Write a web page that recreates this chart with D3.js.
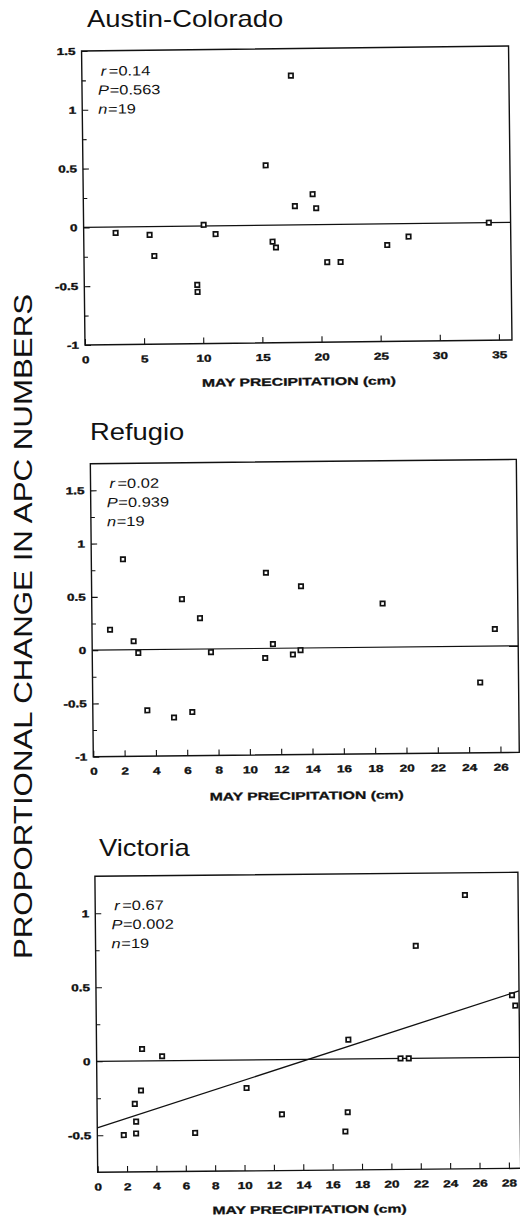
<!DOCTYPE html>
<html>
<head>
<meta charset="utf-8">
<script src="https://cdnjs.cloudflare.com/ajax/libs/d3/7.8.5/d3.min.js"></script>
<style>
  body { margin: 0; background: #fff; }
  svg { display: block; }
  text { font-family: "Liberation Sans", Arial, Helvetica, sans-serif; fill: #111; }
</style>
</head>
<body>
<script>
// May precipitation (cm) and proportional change in APC numbers, per site
const austinPrecip = [2.7, 5.57, 5.95, 9.55, 9.57, 10.15, 11.15, 15.45, 17.67, 15.96, 16.24, 17.88, 19.39, 19.68, 20.56, 21.69, 25.65, 27.46, 34.26];
const austinChange = [-0.05, -0.07, -0.25, -0.50, -0.56, 0.01, -0.07, 0.51, 1.27, -0.14, -0.19, 0.16, 0.26, 0.14, -0.32, -0.32, -0.18, -0.11, 0.0];

const refugioPrecip = [1.15, 2.02, 2.65, 2.94, 3.48, 5.18, 5.76, 6.35, 6.9, 7.58, 11.04, 11.14, 11.54, 12.81, 13.3, 13.37, 18.57, 24.75, 25.72];
const refugioChange = [0.19, 0.85, 0.08, -0.03, -0.57, -0.64, 0.47, -0.59, 0.29, -0.03, -0.09, 0.71, 0.04, -0.06, -0.02, 0.58, 0.41, -0.34, 0.16];

const victoriaPrecip = [1.8, 2.57, 2.65, 2.64, 3.0, 3.1, 4.46, 6.66, 10.19, 12.58, 16.89, 17.06, 17.15, 20.69, 21.25, 21.8, 25.18, 28.32, 28.54];
const victoriaChange = [-0.50, -0.29, -0.41, -0.49, -0.20, 0.08, 0.03, -0.49, -0.19, -0.37, -0.49, -0.36, 0.13, 0.0, 0.0, 0.76, 1.10, 0.42, 0.35];
const victoriaFit = [-0.45, 0.0312]; // intercept, slope

// tick labels
const austinXTicks = [0, 5, 10, 15, 20, 25, 30, 35];
const refugioXTicks = [0, 2, 4, 6, 8, 10, 12, 14, 16, 18, 20, 22, 24, 26];
const victoriaXTicks = [0, 2, 4, 6, 8, 10, 12, 14, 16, 18, 20, 22, 24, 26, 28];
const austinYTicks = [-1, -0.5, 0, 0.5, 1, 1.5];
const refugioYTicks = [-1, -0.5, 0, 0.5, 1, 1.5];
const victoriaYTicks = [-0.5, 0, 0.5, 1];
const austinYMinor = [-0.75, -0.25, 0.25, 0.75, 1.25];
const refugioYMinor = [-0.75, -0.25, 0.25, 0.75, 1.25];
const victoriaYMinor = [-0.25, 0.25, 0.75];

const austinStats = ['0.14', '0.563', '19'];
const refugioStats = ['0.02', '0.939', '19'];
const victoriaStats = ['0.67', '0.002', '19'];

const siteNames = ['Austin-Colorado', 'Refugio', 'Victoria'];
const xLabel = 'MAY PRECIPITATION (cm)';
const yLabel = 'PROPORTIONAL CHANGE IN APC NUMBERS';

const panels = [
    {name: siteNames[0], xs: austinPrecip, ys: austinChange, xTicks: austinXTicks, yTicks: austinYTicks,
     yMinor: austinYMinor, xDomain: [0, 36.1], yDomain: [-1, 1.5], stats: austinStats, fit: null},
    {name: siteNames[1], xs: refugioPrecip, ys: refugioChange, xTicks: refugioXTicks, yTicks: refugioYTicks,
     yMinor: refugioYMinor, xDomain: [0, 27.2], yDomain: [-1, 1.75], stats: refugioStats, fit: null},
    {name: siteNames[2], xs: victoriaPrecip, ys: victoriaChange, xTicks: victoriaXTicks, yTicks: victoriaYTicks,
     yMinor: victoriaYMinor, xDomain: [0, 28.8], yDomain: [-0.75, 1.25], stats: victoriaStats, fit: victoriaFit}
];

// page placement of each panel (the scan is slightly rotated)
const layout = [
    {ox: 85, oy: 345, w: 427, h: 294, angle: -0.67, titleX: 87, titleY: 27.3, statsTop: 25, labelDy: 43},
    {ox: 93.3, oy: 756.7, w: 426, h: 293, angle: -0.58, titleX: 90, titleY: 440, statsTop: 24.6, labelDy: 45},
    {ox: 97.7, oy: 1172.3, w: 423, h: 296, angle: -0.54, titleX: 99, titleY: 855.7, statsTop: 34, labelDy: 43}
];

const width = 520, height = 1221;
const svg = d3.select('body').append('svg')
    .attr('width', width)
    .attr('height', height);

svg.append('text')
    .attr('transform', 'translate(32,626.5) rotate(-90) scale(1.18,1)')
    .attr('text-anchor', 'middle')
    .style('font-size', '26.5px')
    .text(yLabel);

function styleTicks(sel) {
    sel.selectAll('line').attr('stroke', '#111').attr('stroke-width', 1.1);
    sel.selectAll('text')
        .attr('transform', 'scale(1.35,1)')
        .style('font-size', '10px')
        .style('font-weight', 'bold')
        .style('font-family', '"Liberation Sans", Arial, sans-serif')
        .attr('fill', '#111')
        .attr('stroke', '#111')
        .attr('stroke-width', 0.35);
}

function drawPanel(p, lay) {
    svg.append('text')
        .attr('transform', 'translate(' + lay.titleX + ',' + lay.titleY + ') scale(1.19,1)')
        .style('font-size', '23px')
        .text(p.name);

    const g = svg.append('g')
        .attr('transform', 'rotate(' + lay.angle + ',' + lay.ox + ',' + lay.oy + ') translate(' + lay.ox + ',' + (lay.oy - lay.h) + ')');

    const x = d3.scaleLinear().domain(p.xDomain).range([0, lay.w]);
    const y = d3.scaleLinear().domain(p.yDomain).range([lay.h, 0]);

    // minor y ticks
    g.append('g')
        .call(d3.axisLeft(y).tickValues(p.yMinor).tickSizeInner(-4).tickSizeOuter(0).tickFormat(''))
        .call(a => a.select('.domain').remove())
        .selectAll('line').attr('stroke', '#111').attr('stroke-width', 1.1);

    const yAxis = g.append('g')
        .call(d3.axisLeft(y).tickValues(p.yTicks).tickSizeInner(-6).tickSizeOuter(0).tickPadding(4.5)
            .tickFormat(d => String(d)));
    yAxis.select('.domain').remove();
    styleTicks(yAxis);

    const xAxis = g.append('g')
        .attr('transform', 'translate(0,' + lay.h + ')')
        .call(d3.axisBottom(x).tickValues(p.xTicks).tickSizeInner(-6).tickSizeOuter(0).tickPadding(11)
            .tickFormat(d => String(d)));
    xAxis.select('.domain').remove();
    styleTicks(xAxis);

    // clip for the lines
    const clipId = 'clip' + p.name.replace(/[^a-z]/gi, '');
    g.append('clipPath').attr('id', clipId)
        .append('rect').attr('width', lay.w).attr('height', lay.h);

    // zero line
    g.append('line')
        .attr('x1', x(p.xDomain[0])).attr('x2', x(p.xDomain[1]))
        .attr('y1', y(0)).attr('y2', y(0))
        .attr('stroke', '#111').attr('stroke-width', 1.2);

    if (p.fit) {
        const fitLine = d3.line()
            .x(d => x(d))
            .y(d => y(p.fit[0] + p.fit[1] * d));
        g.append('path')
            .datum(p.xDomain)
            .attr('clip-path', 'url(#' + clipId + ')')
            .attr('d', fitLine)
            .attr('fill', 'none')
            .attr('stroke', '#111')
            .attr('stroke-width', 1.3);
    }

    // frame
    g.append('rect')
        .attr('width', lay.w).attr('height', lay.h)
        .attr('fill', 'none').attr('stroke', '#111').attr('stroke-width', 1.4);

    // points
    g.append('g')
        .selectAll('rect')
        .data(p.xs.map((d, i) => [d, p.ys[i]]))
        .enter().append('rect')
        .attr('x', d => x(d[0]) - 2.2)
        .attr('y', d => y(d[1]) - 2.2)
        .attr('width', 4.4)
        .attr('height', 4.4)
        .attr('fill', '#fff')
        .attr('stroke', '#111')
        .attr('stroke-width', 1.7);

    // statistics
    const statNames = ['r', 'P', 'n'];
    const statX = [19, 16, 16];
    for (let i = 0; i < 3; i++) {
        const t = g.append('text')
            .attr('transform', 'translate(' + statX[i] + ',' + (lay.statsTop + 19 * i) + ') scale(1.22,1)')
            .style('font-size', '13.5px');
        t.append('tspan').style('font-style', 'italic').text(statNames[i]);
        t.append('tspan').attr('dx', i === 0 ? 2 : 0.5).text('=' + p.stats[i]);
    }

    g.append('text')
        .attr('transform', 'translate(' + (lay.w / 2) + ',' + (lay.h + lay.labelDy) + ') scale(1.43,1)')
        .attr('text-anchor', 'middle')
        .style('font-size', '11px')
        .style('font-weight', 'bold')
        .attr('stroke', '#111')
        .attr('stroke-width', 0.3)
        .text(xLabel);
}

for (let i = 0; i < panels.length; i++) {
    drawPanel(panels[i], layout[i]);
}
</script>
</body>
</html>
